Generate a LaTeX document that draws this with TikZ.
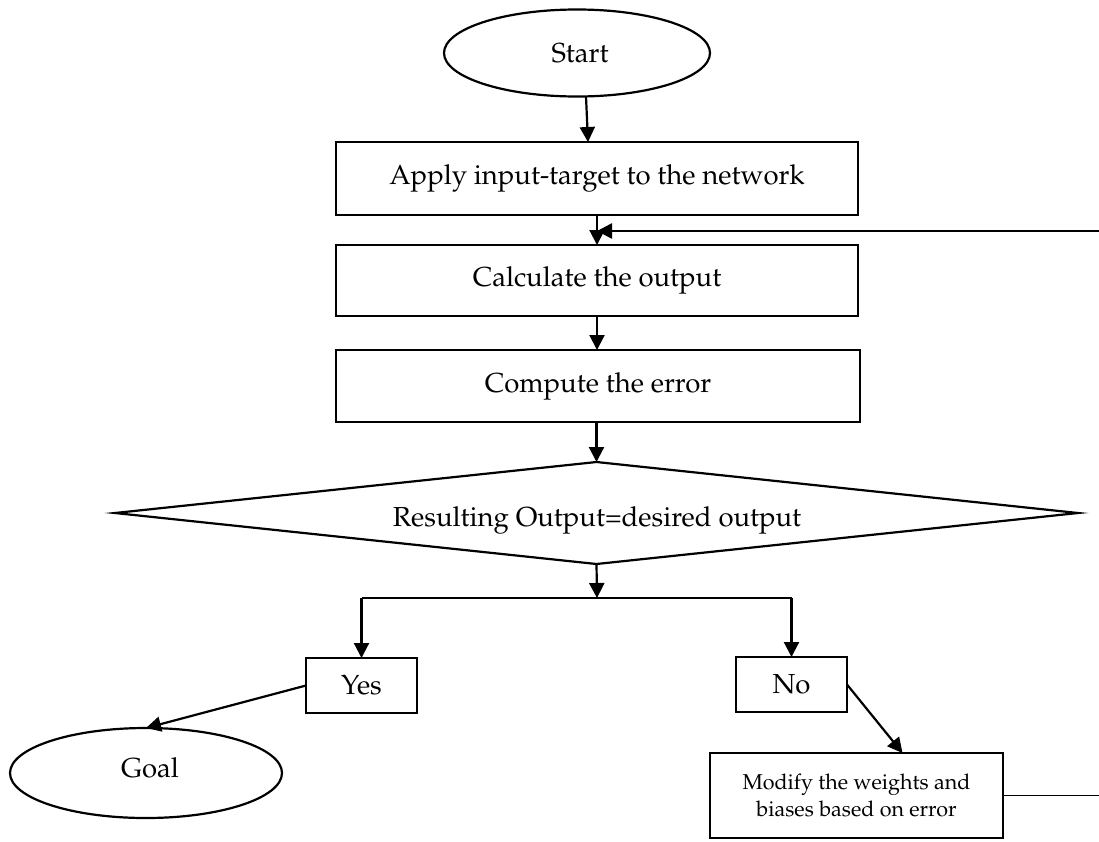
\documentclass[tikz,border=0pt]{standalone}
\usepackage[T1]{fontenc}
\usepackage{mathpazo}
\usetikzlibrary{shapes.geometric,arrows.meta}
\begin{document}
\begin{tikzpicture}[x=1pt,y=-1pt,
  every node/.style={inner sep=0pt, outer sep=0pt, font=\fontsize{27.5}{32}\selectfont},
  procbox/.style={draw, line width=2.2pt, rectangle},
  terminal/.style={draw, line width=2.2pt, ellipse},
  decision/.style={draw, line width=2.2pt, diamond, aspect=9.4},
  arr/.style={line width=2.2pt, -{Triangle[length=15pt,width=15pt]}},
  thinline/.style={line width=1.2pt}]
\useasboundingbox (0,0) rectangle (1099,841);
% terminals
\node[terminal, minimum width=266pt, minimum height=87pt] (start) at (577,53) {};
\node at (580,53) {Start};
% process boxes
\node[procbox, minimum width=522pt, minimum height=73pt] (apply) at (597,178.5) {Apply input-target to the network};
\node[procbox, minimum width=522pt, minimum height=71pt] (calc) at (597,280.5) {Calculate the output};
\node[procbox, minimum width=524pt, minimum height=72pt] (comp) at (598,386) {Compute the error};
% decision
\node[decision, minimum width=963pt, minimum height=102pt] (dec) at (596.5,513) {};
\node at (597,520) {Resulting Output=desired output};
% yes / no
\node[procbox, minimum width=111pt, minimum height=55pt] (yes) at (361.5,685.5) {Yes};
\node[procbox, minimum width=111pt, minimum height=55pt] (no) at (791.5,684.5) {No};
% goal
\node[terminal, minimum width=272pt, minimum height=90pt] (goal) at (146,773) {};
\node at (150,768) {Goal};
% modify
\node[procbox, minimum width=293pt, minimum height=85pt, align=center,
      font=\fontsize{21.5}{27}\selectfont] (mod) at (856.5,795.5)
      {Modify the weights and\\biases based on error};
% coordinates
\coordinate (fbR) at (1099,231);
\coordinate (br) at (597,598);
\coordinate (yesTop) at (361.5,598);
\coordinate (noTop) at (791.5,598);
\coordinate (modR) at (1099,795.5);
% connectors
\draw[arr] ([xshift=9pt]start.south) -- ([xshift=-9pt]apply.north);
\draw[arr] (apply.south) -- (calc.north);
\draw[arr, line width=2.6pt] (fbR) -- (fbR -| calc.north);
\draw[arr] (calc.south) -- (comp.north -| calc.south);
\draw[arr] (comp.south -| dec.north) -- (dec.north);
\draw[arr] (dec.south) -- (br);
\draw[thinline] (yesTop) -- (noTop);
\draw[arr] (yesTop) -- (yes.north);
\draw[arr] (noTop) -- (no.north);
\draw[arr] (yes.west) -- (goal.north);
\draw[arr] (no.east) -- ([xshift=46pt]mod.north);
\draw[thinline] (mod.east) -- (modR);
\end{tikzpicture}
\end{document}
